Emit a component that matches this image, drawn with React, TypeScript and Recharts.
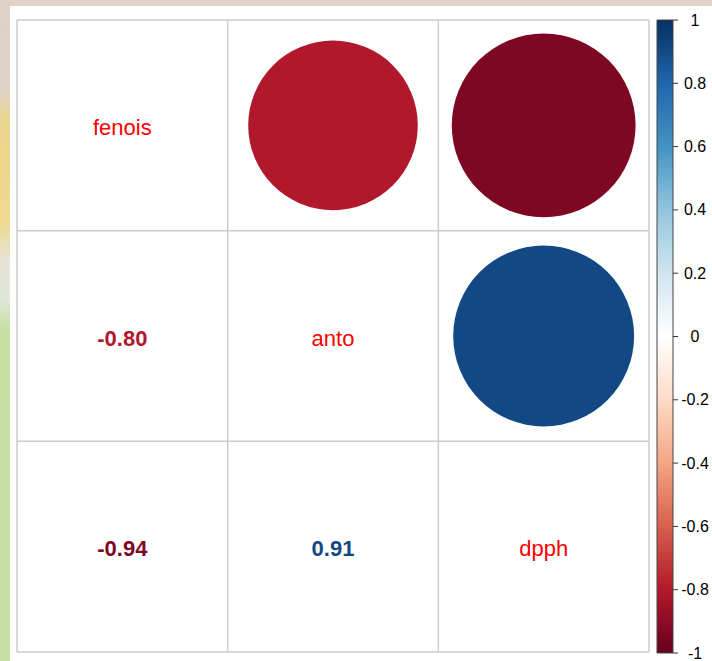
import { ScatterChart, Scatter, XAxis, YAxis, ReferenceLine, BarChart, Bar } from 'recharts';

const variables = ['fenois', 'anto', 'dpph'];
const corrRows = [
  [1, -0.8, -0.94],
  [-0.8, 1, 0.91],
  [-0.94, 0.91, 1],
];
const legendTicks = [-1, -0.8, -0.6, -0.4, -0.2, 0, 0.2, 0.4, 0.6, 0.8, 1];
const paletteStops = ['#67001F', '#B2182B', '#D6604D', '#F4A582', '#FDDBC7', '#FFFFFF', '#D1E5F0', '#92C5DE', '#4393C3', '#2166AC', '#053061'];
const gridLines = [0, 1, 2, 3];

const W = 712;
const H = 661;
const plot = { left: 17, top: 20, right: 649, bottom: 652 };
const n = variables.length;
const cellHalf = (plot.right - plot.left) / n / 2;
const font = '"Liberation Sans", Arial, sans-serif';

function hexToRgb(h: string) {
  const v = parseInt(h.slice(1), 16);
  return [(v >> 16) & 255, (v >> 8) & 255, v & 255];
}

// linear interpolation through the RdBu stops, -1..1
function colorFor(r: number) {
  const pos = ((r + 1) / 2) * (paletteStops.length - 1);
  const i = Math.min(Math.floor(pos), paletteStops.length - 2);
  const t = pos - i;
  const a = hexToRgb(paletteStops[i]);
  const b = hexToRgb(paletteStops[i + 1]);
  const c = a.map((x, k) => Math.round(x + (b[k] - x) * t));
  return `rgb(${c[0]},${c[1]},${c[2]})`;
}

const circles: any[] = [];
const labels: any[] = [];
corrRows.forEach((row, i) => {
  row.forEach((r, j) => {
    const x = j + 0.5;
    const y = n - i - 0.5;
    if (i === j) {
      labels.push({ x, y, text: variables[i], color: '#FF0000', bold: false });
    } else if (j > i) {
      circles.push({ x, y, size: Math.abs(r), color: colorFor(r) });
    } else {
      labels.push({ x, y, text: r.toFixed(2), color: colorFor(r), bold: true });
    }
  });
});

// circle area proportional to |r|, like corrplot
const CircleShape = (props: any) => {
  const { cx, cy, payload } = props;
  const r = Math.sqrt(payload.size) * cellHalf * 0.9;
  return <circle cx={cx} cy={cy} r={r} fill={payload.color} />;
};

const TextShape = (props: any) => {
  const { cx, cy, payload } = props;
  return (
    <text
      x={cx}
      y={cy + 2}
      textAnchor="middle"
      dominantBaseline="central"
      fill={payload.color}
      fontSize={22}
      fontWeight={payload.bold ? 'bold' : 'normal'}
      fontFamily={font}
    >
      {payload.text}
    </text>
  );
};

const LegendTick = (props: any) => {
  const { x, y, payload } = props;
  return (
    <text x={x + 15} y={y} textAnchor="middle" dominantBaseline="central" fontSize={16} fill="#000" fontFamily={font}>
      {String(payload.value)}
    </text>
  );
};

const legendData = [{ name: 'cb', range: [-1, 1] }];

export default function App() {
  return (
    <div
      style={{
        position: 'absolute',
        left: 0,
        top: 0,
        width: W,
        height: H,
        overflow: 'hidden',
        background:
          'linear-gradient(to bottom, #ded2c9 0px, #e0d3c8 90px, #ecd68e 120px, #efd98c 220px, #e6e3d6 260px, #dfe6d8 300px, #c8dfa3 330px, #c6dea0 661px)',
        fontFamily: font,
      }}
    >
      <div style={{ position: 'absolute', left: 10, top: 6, width: W - 10, height: H - 6, background: '#ffffff' }} />
      <div style={{ position: 'absolute', left: 0, top: 0 }}>
        <ScatterChart
          width={W}
          height={H}
          margin={{ top: plot.top, left: plot.left, right: W - plot.right, bottom: H - plot.bottom }}
        >
          <XAxis type="number" dataKey="x" domain={[0, n]} hide />
          <YAxis type="number" dataKey="y" domain={[0, n]} hide />
          {gridLines.map((g) => (
            <ReferenceLine key={'x' + g} x={g} stroke="#cccccc" strokeWidth={1.5} ifOverflow="extendDomain" />
          ))}
          {gridLines.map((g) => (
            <ReferenceLine key={'y' + g} y={g} stroke="#cccccc" strokeWidth={1.5} ifOverflow="extendDomain" />
          ))}
          <Scatter data={circles} shape={<CircleShape />} isAnimationActive={false} />
          <Scatter data={labels} shape={<TextShape />} isAnimationActive={false} />
        </ScatterChart>
      </div>
      <div style={{ position: 'absolute', left: 0, top: 0 }}>
        <BarChart
          width={W}
          height={H}
          data={legendData}
          margin={{ top: 20, left: 657, right: 0, bottom: H - 653 }}
          barCategoryGap={0}
        >
          <defs>
            <linearGradient id="cbGrad" x1="0" y1="1" x2="0" y2="0">
              {paletteStops.map((c, k) => (
                <stop key={k} offset={k / (paletteStops.length - 1)} stopColor={c} />
              ))}
            </linearGradient>
          </defs>
          <XAxis dataKey="name" hide />
          <YAxis
            orientation="right"
            width={39}
            domain={[-1, 1]}
            ticks={legendTicks}
            type="number"
            axisLine={false}
            tickSize={5}
            tickLine={{ stroke: '#333333' }}
            tick={<LegendTick />}
            interval={0}
          />
          <Bar dataKey="range" fill="url(#cbGrad)" stroke="#444444" strokeWidth={1} isAnimationActive={false} />
        </BarChart>
      </div>
    </div>
  );
}
